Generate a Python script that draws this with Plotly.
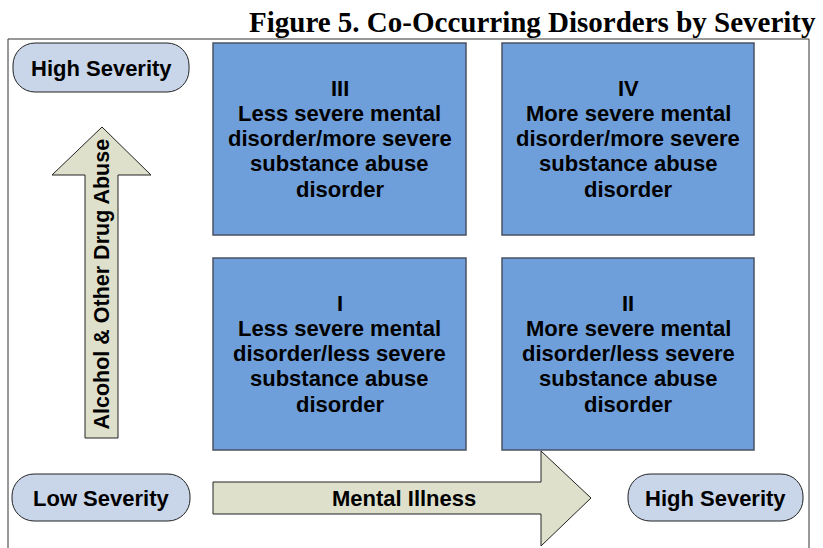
import plotly.graph_objects as go

# ---- content ----
title_text = "Figure 5. Co-Occurring Disorders by Severity"
quadrant_ids = ["III", "IV", "I", "II"]
quadrant_lines = [
    ["Less severe mental", "disorder/more severe", "substance abuse", "disorder"],
    ["More severe mental", "disorder/more severe", "substance abuse", "disorder"],
    ["Less severe mental", "disorder/less severe", "substance abuse", "disorder"],
    ["More severe mental", "disorder/less severe", "substance abuse", "disorder"],
]
y_axis_label = "Alcohol & Other Drug Abuse"
x_axis_label = "Mental Illness"
severity_low = "Low Severity"
severity_high = "High Severity"

# ---- geometry (pixel layout) ----
W, H = 823, 548
col_x = [(213, 466), (502, 754)]
row_y = [(43, 235), (258, 450)]
quad_cells = [(0, 0), (1, 0), (0, 1), (1, 1)]  # (col, row) for III, IV, I, II
LINE_FIRST = 45     # offset of first text line from box top
LINE_STEP = 25.3

BOX_FILL = "#6F9FDA"
BOX_LINE = "#4A5262"
ARROW_FILL = "#DEE0CC"
PILL_FILL = "#C9D6E9"
EDGE = "#222222"
FONT = "Liberation Sans, Arial, sans-serif"
FS = 22

fig = go.Figure()
shapes = []
annotations = []


def label(x, y, text, size=FS, angle=0):
    annotations.append(dict(x=x, y=y, text="<b>" + text + "</b>", textangle=angle,
                            showarrow=False, xanchor="center", yanchor="middle",
                            font=dict(family=FONT, size=size, color="black")))


# outer frame (open at the bottom)
shapes.append(dict(type="path", path="M 8,560 L 8,39 L 809,39 L 809,560",
                   line=dict(color="#333333", width=1)))

# quadrants
for qid, lines, (c, r) in zip(quadrant_ids, quadrant_lines, quad_cells):
    x0, x1 = col_x[c]
    y0, y1 = row_y[r]
    shapes.append(dict(type="rect", x0=x0, x1=x1, y0=y0, y1=y1,
                       fillcolor=BOX_FILL, line=dict(color=BOX_LINE, width=1.5)))
    for i, t in enumerate([qid] + lines):
        label((x0 + x1) / 2, y0 + LINE_FIRST + i * LINE_STEP, t)


def pill(x0, y0, x1, y1, r):
    c = r * 0.5523
    return (f"M {x0+r},{y0} L {x1-r},{y0} "
            f"C {x1-r+c},{y0} {x1},{y0+r-c} {x1},{y0+r} "
            f"L {x1},{y1-r} C {x1},{y1-r+c} {x1-r+c},{y1} {x1-r},{y1} "
            f"L {x0+r},{y1} C {x0+r-c},{y1} {x0},{y1-r+c} {x0},{y1-r} "
            f"L {x0},{y0+r} C {x0},{y0+r-c} {x0+r-c},{y0} {x0+r},{y0} Z")


pills = [
    ((13, 43, 189, 92), severity_high),
    ((12, 474, 190, 521), severity_low),
    ((628, 474, 803, 521), severity_high),
]
for (x0, y0, x1, y1), txt in pills:
    shapes.append(dict(type="path", path=pill(x0, y0, x1, y1, 22),
                       fillcolor=PILL_FILL, line=dict(color=EDGE, width=1)))
    label((x0 + x1) / 2, (y0 + y1) / 2 + 1, txt)

# vertical arrow (substance abuse)
vpath = "M 85,438 L 85,175 L 52,175 L 102,127 L 151,175 L 118,175 L 118,438 Z"
shapes.append(dict(type="path", path=vpath, fillcolor=ARROW_FILL,
                   line=dict(color=EDGE, width=1)))
label(101.5, 284, y_axis_label, size=21.5, angle=-90)

# horizontal arrow (mental illness)
hpath = "M 213,482 L 541,482 L 541,451 L 591,498 L 541,546 L 541,514 L 213,514 Z"
shapes.append(dict(type="path", path=hpath, fillcolor=ARROW_FILL,
                   line=dict(color=EDGE, width=1)))
label(404, 498, x_axis_label)

# title
annotations.append(dict(x=818, y=22, text="<b>" + title_text + "</b>",
                        showarrow=False, xanchor="right", yanchor="middle",
                        font=dict(family="Liberation Serif, Times New Roman, serif",
                                  size=29, color="black")))

fig.update_layout(
    width=W, height=H,
    margin=dict(l=0, r=0, t=0, b=0),
    paper_bgcolor="white", plot_bgcolor="white",
    xaxis=dict(range=[0, W], visible=False, fixedrange=True),
    yaxis=dict(range=[H, 0], visible=False, fixedrange=True),
    shapes=shapes, annotations=annotations, showlegend=False,
)

fig.write_html("out.html", config={"displayModeBar": False},
               post_script="document.body.style.margin='0px';")
